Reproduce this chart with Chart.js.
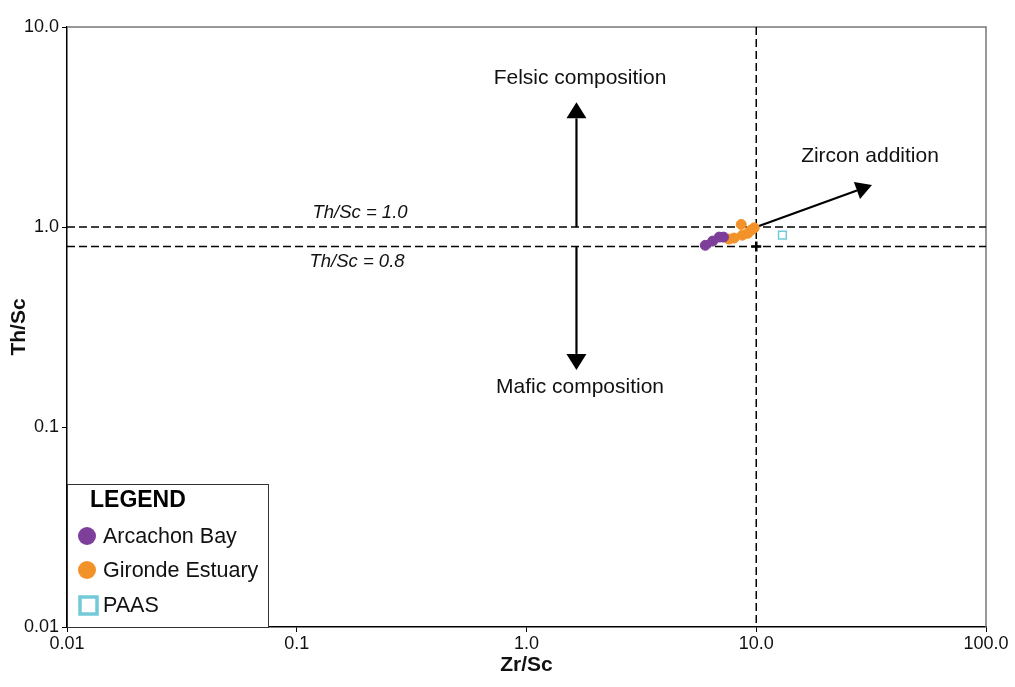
<!DOCTYPE html>
<html><head><meta charset="utf-8">
<script src="https://cdn.jsdelivr.net/npm/chart.js@4.4.1/dist/chart.umd.min.js"></script>
<style>html,body{margin:0;padding:0;background:#fff}#wrap{width:1015px;height:687px}</style>
</head><body><div id="wrap"><canvas id="c" width="1015" height="687"></canvas></div>
<script>
const xTicks = [0.01, 0.1, 1, 10, 100];
const xTickLabels = ["0.01", "0.1", "1.0", "10.0", "100.0"];
const yTicks = [0.01, 0.1, 1, 10];
const yTickLabels = ["0.01", "0.1", "1.0", "10.0"];

const arcachonZr = [6.0, 6.46, 6.9, 7.2];
const arcachonTh = [0.81, 0.85, 0.89, 0.89];
const girondeZr = [7.6, 8.0, 8.6, 8.7, 9.2, 9.5, 9.8];
const girondeTh = [0.87, 0.88, 1.03, 0.91, 0.93, 0.965, 0.99];
const paasZr = [13.0];
const paasTh = [0.91];
const refZr = [10];
const refTh = [0.8];

const thLines = [1.0, 0.8];
const thLineLabels = ["Th/Sc = 1.0", "Th/Sc = 0.8"];
const zrLine = 10;

const felsicArrow = {x: 1.65, from: 1.0, to: 4.2};
const maficArrow = {x: 1.65, from: 0.8, to: 0.193};
const zirconArrow = {x0: 10, y0: 1.0, x1: 31.9, y1: 1.62};

const pts = (xs, ys) => xs.map((x, i) => ({x: x, y: ys[i]}));

const FONT = "'Liberation Sans', Arial, sans-serif";

function arrow(ctx, x0, y0, x1, y1, head, hw) {
  const a = Math.atan2(y1 - y0, x1 - x0);
  const bx = x1 - head * Math.cos(a), by = y1 - head * Math.sin(a);
  ctx.beginPath(); ctx.moveTo(x0, y0); ctx.lineTo(bx, by); ctx.stroke();
  ctx.beginPath();
  ctx.moveTo(x1, y1);
  ctx.lineTo(bx + hw * Math.sin(a), by - hw * Math.cos(a));
  ctx.lineTo(bx - hw * Math.sin(a), by + hw * Math.cos(a));
  ctx.closePath(); ctx.fill();
}

const decor = {
  id: 'decor',
  beforeDatasetsDraw(chart) {
    const ctx = chart.ctx, xs = chart.scales.x, ys = chart.scales.y, ca = chart.chartArea;
    ctx.save();
    ctx.strokeStyle = '#777'; ctx.lineWidth = 1.5;
    ctx.beginPath(); ctx.moveTo(ca.left, ca.top); ctx.lineTo(ca.right, ca.top); ctx.lineTo(ca.right, ca.bottom); ctx.stroke();
    ctx.strokeStyle = '#000'; ctx.lineWidth = 1.5; ctx.setLineDash([8, 4]);
    thLines.forEach(v => { const y = ys.getPixelForValue(v); ctx.beginPath(); ctx.moveTo(ca.left, y); ctx.lineTo(ca.right, y); ctx.stroke(); });
    const vx = xs.getPixelForValue(zrLine);
    ctx.beginPath(); ctx.moveTo(vx, ca.top); ctx.lineTo(vx, ca.bottom); ctx.stroke();
    ctx.setLineDash([]);
    ctx.fillStyle = '#111'; ctx.font = 'italic 18.5px ' + FONT; ctx.textAlign = 'center';
    ctx.textBaseline = 'middle';
    ctx.fillText(thLineLabels[0], 360, 213);
    ctx.fillText(thLineLabels[1], 357, 262);
    ctx.fillStyle = '#000'; ctx.strokeStyle = '#000'; ctx.lineWidth = 2.2;
    const ax = xs.getPixelForValue(felsicArrow.x);
    arrow(ctx, ax, ys.getPixelForValue(felsicArrow.from), ax, ys.getPixelForValue(felsicArrow.to), 16, 10);
    arrow(ctx, ax, ys.getPixelForValue(maficArrow.from), ax, ys.getPixelForValue(maficArrow.to), 16, 10);
    arrow(ctx, xs.getPixelForValue(zirconArrow.x0), ys.getPixelForValue(zirconArrow.y0),
      xs.getPixelForValue(zirconArrow.x1), ys.getPixelForValue(zirconArrow.y1), 16, 9);
    ctx.fillStyle = '#111'; ctx.font = '21px ' + FONT; ctx.textAlign = 'center'; ctx.textBaseline = 'middle';
    ctx.fillText('Felsic composition', 580, 78);
    ctx.fillText('Mafic composition', 580, 387);
    ctx.fillText('Zircon addition', 870, 156);
    ctx.restore();
  },
  afterDatasetsDraw(chart) {
    const ctx = chart.ctx, ca = chart.chartArea, ds = chart.data.datasets;
    ctx.save();
    const bx = ca.left, by = 484, bw = 201, bh = ca.bottom - by;
    ctx.fillStyle = '#fff'; ctx.fillRect(bx, by, bw, bh);
    ctx.strokeStyle = '#333'; ctx.lineWidth = 1; ctx.strokeRect(bx + 0.5, by + 0.5, bw, bh);
    ctx.fillStyle = '#000'; ctx.font = 'bold 23px ' + FONT; ctx.textAlign = 'left'; ctx.textBaseline = 'middle';
    ctx.fillText('LEGEND', 90, 501);
    ctx.font = '21.5px ' + FONT;
    const rows = [536, 570, 605];
    for (let i = 0; i < 3; i++) {
      const d = ds[i], y = rows[i];
      if (i < 2) {
        ctx.fillStyle = d.backgroundColor; ctx.beginPath(); ctx.arc(87, y, 9, 0, Math.PI * 2); ctx.fill();
      } else {
        ctx.strokeStyle = d.borderColor; ctx.lineWidth = 3.5; ctx.strokeRect(80, y - 8, 17, 17);
      }
      ctx.fillStyle = '#111';
      ctx.fillText(d.label, 103, y + 1);
    }
    ctx.restore();
  }
};

new Chart(document.getElementById('c'), {
  type: 'scatter',
  data: {
    datasets: [
      {label: 'Arcachon Bay', data: pts(arcachonZr, arcachonTh), backgroundColor: '#7e3f9b', borderColor: '#7e3f9b', pointRadius: 5},
      {label: 'Gironde Estuary', data: pts(girondeZr, girondeTh), backgroundColor: '#f4922a', borderColor: '#f4922a', pointRadius: 5},
      {label: 'PAAS', data: pts(paasZr, paasTh), backgroundColor: '#fff', borderColor: '#72c9d8', pointStyle: 'rect', pointRadius: 5.5, borderWidth: 1.5},
      {label: '', data: pts(refZr, refTh), backgroundColor: '#000', borderColor: '#000', pointStyle: 'cross', pointRadius: 5, borderWidth: 2.5}
    ]
  },
  options: {
    responsive: false, animation: false, devicePixelRatio: 1,
    layout: {padding: {top: 27, right: 29, bottom: 9, left: 7}},
    plugins: {legend: {display: false}, tooltip: {enabled: false}},
    scales: {
      x: {
        type: 'logarithmic', min: 0.01, max: 100,
        afterBuildTicks: s => { s.ticks = xTicks.map(v => ({value: v})); },
        afterFit: s => { s.height = 51; },
        ticks: {callback: (v) => xTickLabels[xTicks.indexOf(v)], color: '#111', font: {family: FONT, size: 18}, padding: 1, maxRotation: 0, autoSkip: false},
        grid: {drawOnChartArea: false, drawTicks: true, tickLength: 5, color: '#000'},
        border: {display: true, color: '#000', width: 1.5},
        title: {display: true, text: 'Zr/Sc', color: '#111', font: {family: FONT, size: 21, weight: 'bold'}, padding: 0}
      },
      y: {
        type: 'logarithmic', min: 0.01, max: 10,
        afterBuildTicks: s => { s.ticks = yTicks.map(v => ({value: v})); },
        afterFit: s => { s.width = 60; },
        ticks: {callback: (v) => yTickLabels[yTicks.indexOf(v)], color: '#111', font: {family: FONT, size: 18}, padding: 3, autoSkip: false},
        grid: {drawOnChartArea: false, drawTicks: true, tickLength: 5, color: '#000'},
        border: {display: true, color: '#000', width: 1.5},
        title: {display: true, text: 'Th/Sc', color: '#111', font: {family: FONT, size: 21, weight: 'bold'}, padding: 0}
      }
    }
  },
  plugins: [decor]
});
</script></body></html>
